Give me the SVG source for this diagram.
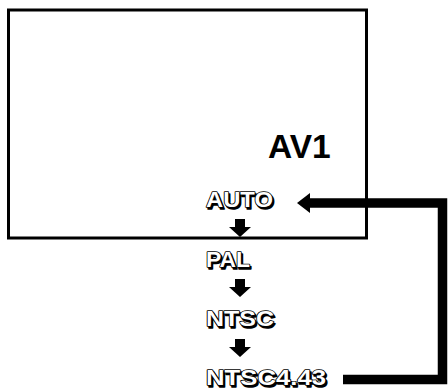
<svg xmlns="http://www.w3.org/2000/svg" width="448" height="390" viewBox="0 0 448 390">
<defs>
<style>
.lbl{font-family:"Liberation Sans",Arial,sans-serif;font-weight:bold;font-size:22px}
.sh{fill:#000;stroke:#000;stroke-width:1.6;stroke-linejoin:round}
.ol{fill:#000;stroke:#000;stroke-width:1.6;stroke-linejoin:round}
.fg{fill:#fff}
.conn{fill:none;stroke:#000;stroke-width:9.5}
</style>
</defs>
<rect id="screen" x="8.5" y="10" width="358" height="228" fill="#fff" stroke="#000" stroke-width="3"/>
<g id="av1"><text x="268" y="158" font-family="Liberation Sans,Arial,sans-serif" font-weight="bold" font-size="33.5">AV1</text></g>
<g id="auto" class="lbl">
<text class="sh" x="207.5" y="208.5" textLength="67" lengthAdjust="spacingAndGlyphs">AUTO</text>
<text class="ol" x="206" y="207" textLength="67" lengthAdjust="spacingAndGlyphs">AUTO</text>
<text class="fg" x="206" y="207" textLength="67" lengthAdjust="spacingAndGlyphs">AUTO</text>
</g>
<g id="pal" class="lbl">
<text class="sh" x="207.5" y="268.5" textLength="44" lengthAdjust="spacingAndGlyphs">PAL</text>
<text class="ol" x="206" y="267" textLength="44" lengthAdjust="spacingAndGlyphs">PAL</text>
<text class="fg" x="206" y="267" textLength="44" lengthAdjust="spacingAndGlyphs">PAL</text>
</g>
<g id="ntsc" class="lbl">
<text class="sh" x="207.5" y="327.5" textLength="68" lengthAdjust="spacingAndGlyphs">NTSC</text>
<text class="ol" x="206" y="326" textLength="68" lengthAdjust="spacingAndGlyphs">NTSC</text>
<text class="fg" x="206" y="326" textLength="68" lengthAdjust="spacingAndGlyphs">NTSC</text>
</g>
<g id="ntsc443" class="lbl">
<text class="sh" x="207.5" y="386.5" textLength="120" lengthAdjust="spacingAndGlyphs">NTSC4.43</text>
<text class="ol" x="206" y="385" textLength="120" lengthAdjust="spacingAndGlyphs">NTSC4.43</text>
<text class="fg" x="206" y="385" textLength="120" lengthAdjust="spacingAndGlyphs">NTSC4.43</text>
</g>
<g id="connectors">
<polygon points="235,219 245,219 245,227 251,227 240,237 229,227 235,227"/>
<polygon points="235,279 245,279 245,287 251,287 240,297 229,287 235,287"/>
<polygon points="235,339 245,339 245,347 251,347 240,357 229,347 235,347"/>
<path class="conn" d="M343,379.5 H442.5 V203 H308"/>
<polygon points="297,203 310,193 310,213"/>
</g>
</svg>
